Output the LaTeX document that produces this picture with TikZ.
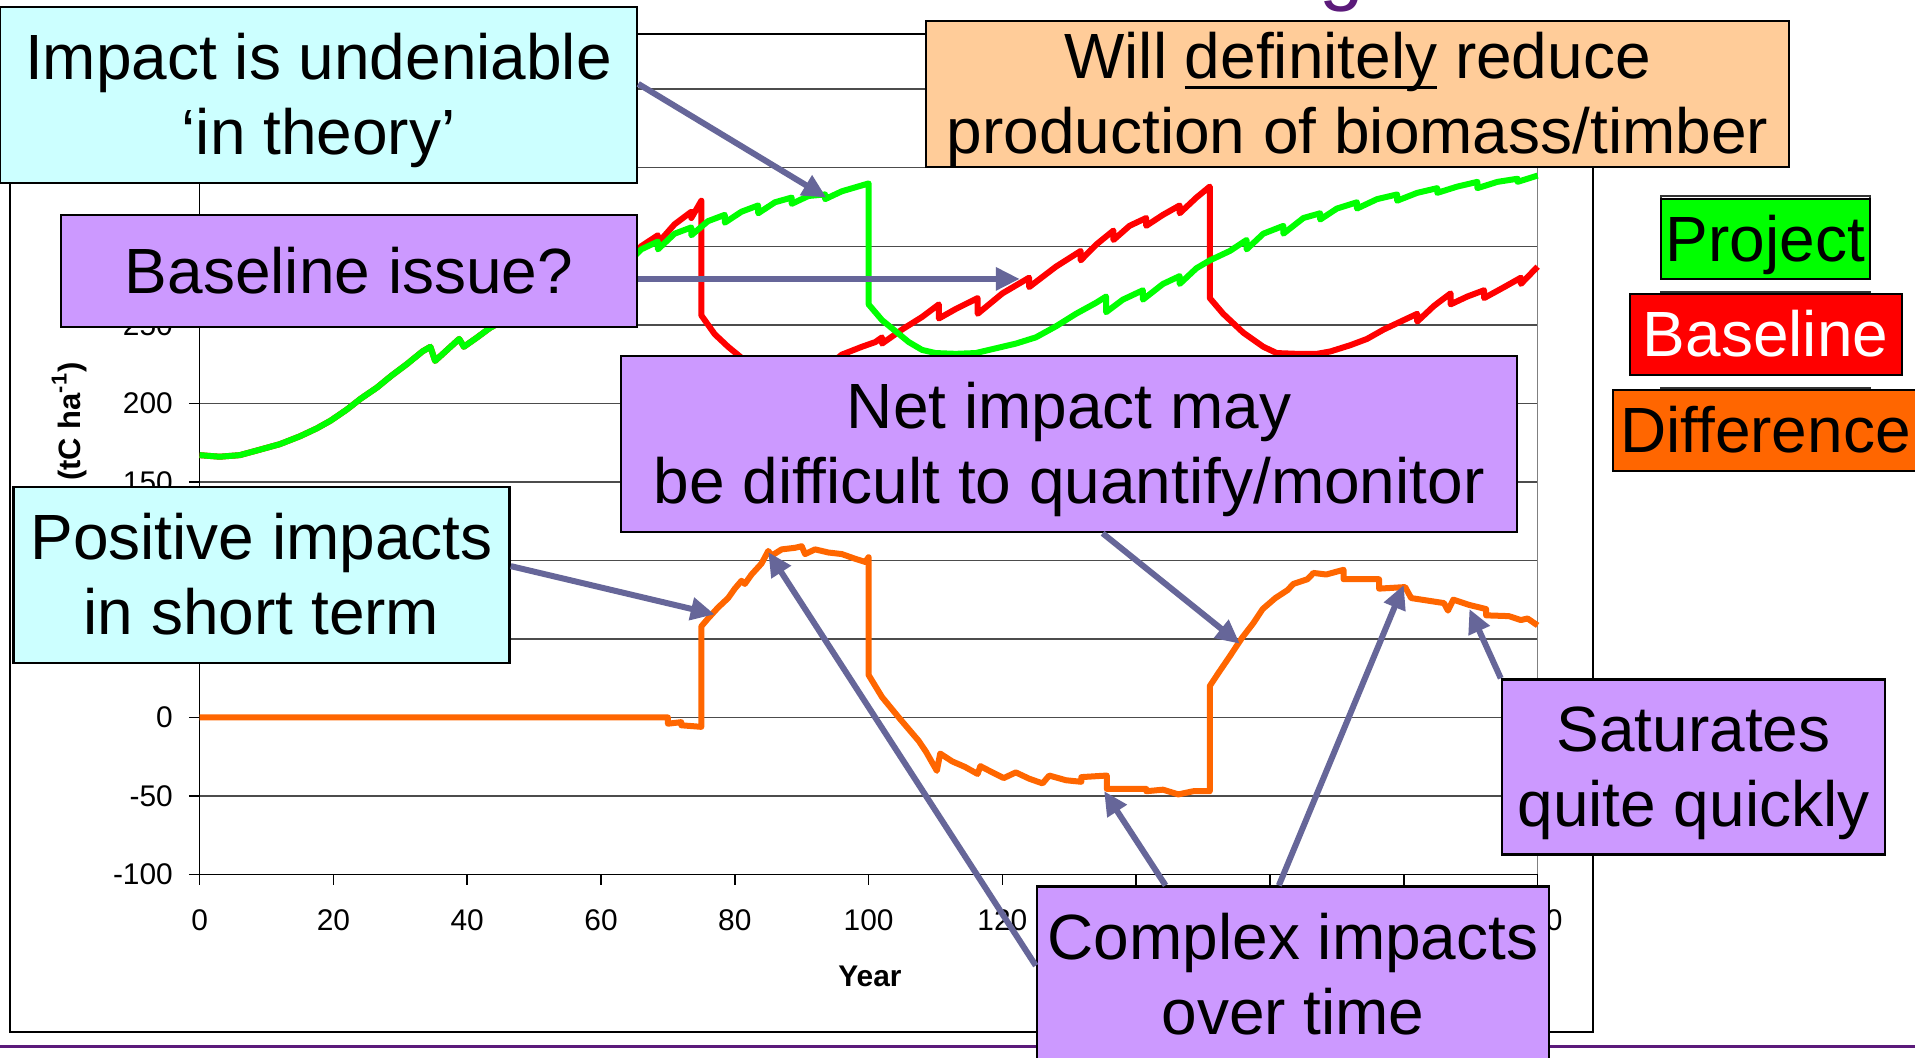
\documentclass[tikz,border=0pt]{standalone}
\usepackage{fontspec}
\setmainfont{Liberation Sans}
\usetikzlibrary{arrows.meta}
\definecolor{sky}{HTML}{CCFFFF}
\definecolor{lilac}{HTML}{CC99FF}
\definecolor{peach}{HTML}{FFCC99}
\definecolor{slate}{HTML}{666699}
\definecolor{projgreen}{HTML}{00FF00}
\definecolor{basered}{HTML}{FF0000}
\definecolor{difforange}{HTML}{FF6600}
\definecolor{titlepurple}{HTML}{5B1A7A}
\newcommand{\ulword}[1]{\setbox0=\hbox{#1}\rlap{\rule[-2.9pt]{\wd0}{0.8pt}}\box0\relax}
\newcommand{\boxstrut}{\rule[-0.212em]{0pt}{1.117em}}
\begin{document}
\begin{tikzpicture}[x=0.1mm,y=0.1mm]
\tikzstyle{every node}+=[inner sep=0pt]
\tikzstyle{callout}=[draw=black, line width=0.25mm, align=center, font=\fontsize{18.2}{21.2}\selectfont]
\tikzstyle{keybox}=[draw=black, line width=0.2mm, font=\fontsize{18.2}{21.2}\selectfont, execute at begin node=\boxstrut]
\tikzstyle{pointer}=[draw=slate, line width=0.6mm, -{Triangle[length=2.4mm,width=2.2mm]}]
\tikzstyle{gridline}=[black!70, line width=0.15mm]
\tikzstyle{ticklabel}=[font=\fontsize{8.5}{10}\selectfont]
\tikzstyle{series}=[line width=0.6mm, line join=round]
\useasboundingbox (0,0) rectangle (1915,-1057);
\fill [white] (0,0) rectangle (1915,-1057);
\node [text=titlepurple, font=\fontsize{22.8}{26}\selectfont, anchor=base] (titleg) at (1342,5) {g};
\draw [black, line width=0.25mm] (10,-34) rectangle (1593,-1032);
\begin{scope}[shift={(199.6,-717.4)}, x=0.669mm, y=0.15706mm]
\foreach \v in {-50,0,...,400} \draw [gridline] (0,\v) -- (200,\v);
\draw [gray, line width=0.15mm] (200,-100) -- (200,400);
\draw [black, line width=0.15mm] (0,400) -- (0,-100) -- (200,-100);
\foreach \v in {-100,-50,...,400} \draw [black, line width=0.15mm] (-1.6,\v) -- (0,\v);
\foreach \y in {0,20,...,200} \draw [black, line width=0.15mm] (\y,-100) -- (\y,-106.5);
\foreach \v in {-100,-50,...,400} \node [ticklabel, anchor=east] (ytick\v) at (-3.9,\v) {\v};
\foreach \y in {0,20,...,200} \node [ticklabel] (xtick\y) at (\y,-129) {\y};
\node [font=\bfseries\fontsize{8.5}{10}\selectfont] (yearlabel) at (100.2,-164.6) {Year};
\node [rotate=90, font=\bfseries\fontsize{8.8}{10}\selectfont] (unitlabel) at (-19.5,188.6) {(tC ha\textsuperscript{-1})};
\draw [series, basered] plot coordinates {(0,167) (3,166) (6,167) (8.6,170) (12,174) (15,179) (17.5,184) (19.6,189) (22,196) (24.1,203) (26.5,210) (28.8,218) (31,225) (33.3,233) (34.5,236) (35.2,227) (37,234) (38.8,241) (39.5,236) (41.5,242) (43.4,248) (46,254) (48.5,259) (48.5,253) (51,264) (53.5,270) (53.5,264) (56,275) (58.5,281) (58.5,275) (61,287) (63.5,293) (63.5,287) (66,300) (68.5,307) (68.5,302) (71,314) (73.5,322) (73.5,318) (75,329) (75,256) (77,244) (79,236) (81,229) (83,224) (85,221) (88,220) (91,221) (94,224) (96,231) (99,236) (101,239) (102,242) (102,238) (105,247) (108,255) (110.5,263) (110.5,254) (113,260) (116.3,267) (116.3,257) (120,270) (124,280) (124,274) (128,287) (131.7,297) (131.7,291) (134,301) (136.6,310) (136.6,304) (139,313) (141.5,318) (141.5,313) (144,320) (146.5,326) (146.5,321) (149,331) (151,338) (151,267) (153,257) (156,245) (159,236) (161,232) (164,231.5) (167,231.5) (169,233) (172,237) (174.5,241) (177,247) (180,253) (182,257) (182,252) (184.5,262) (187,270) (187,263) (189.5,268) (192,272) (192,267) (195,274) (197.5,280) (197.5,276) (200,287)};
\draw [series, projgreen] plot coordinates {(0,167) (3,166) (6,167) (8.6,170) (12,174) (15,179) (17.5,184) (19.6,189) (22,196) (24.1,203) (26.5,210) (28.8,218) (31,225) (33.3,233) (34.5,236) (35.2,227) (37,234) (38.8,241) (39.5,236) (41.5,242) (43.4,248) (46,254) (48.5,259) (48.5,253) (51,264) (53.5,270) (53.5,264) (56,275) (58.5,281) (58.5,275) (61,287) (63.5,293) (63.5,287) (66,298) (68.5,303) (68.5,298) (71,308) (73.5,312) (73.5,307) (76,316) (78.5,320) (78.5,315) (81,322) (83.5,326) (83.5,321) (86,328) (88.5,331) (88.5,327) (91,332) (93.5,333) (93.5,330) (96,335) (100,340) (100,263) (102,253) (104,246) (106,239) (108,234) (110,232) (113,231.5) (116,232) (119,235) (122,238) (125,242) (128,249) (131,257) (134,264) (135.5,268) (135.5,258) (138,266) (141,272) (141,266) (144,276) (146.5,281) (146.5,276) (149,286) (151,291) (154,297) (156.5,304) (156.5,298) (159,308) (162,313) (162,308) (165,318) (167.5,321) (167.5,317) (170,324) (173,328) (173,324) (176,330) (179,333) (179,329) (182,334) (185,337) (185,334) (188,338) (191,341) (191,337) (194,341) (197,343) (197,341) (200,345)};
\draw [series, difforange] plot coordinates {(0,0) (70,0) (70,-4) (72,-3) (72,-5) (75,-6) (75,58) (76,63) (77.5,70) (79,76) (80,82) (81,87) (81.5,85) (82.5,91) (84,98) (85,106) (85.5,103) (87,107) (89,108) (90,109) (90.5,104) (92,107) (94,105) (96,104) (98,101) (99.5,99) (100,102) (100,27) (101,20) (102,13) (104.7,-1) (107.5,-15) (108.6,-22) (110.2,-34) (110.7,-23) (112.5,-28) (114.4,-31.5) (116.3,-36) (116.7,-31) (118.5,-35) (120.2,-38.6) (122,-35) (124,-39) (126,-42) (127,-37) (129.5,-40) (131.8,-41) (131.8,-38) (135.6,-37) (135.6,-45.5) (141.5,-45.5) (141.5,-47) (144,-46) (146.3,-49) (148.5,-47) (151,-47) (151,20) (152.4,29) (154,39) (155.8,50.6) (157.5,60) (158.9,69) (160.8,76) (162.6,81) (163.5,85) (165.6,88) (166.5,92) (168.4,91) (171,94) (171,88) (176.3,88) (176.3,82) (180.2,83) (181.1,76) (186,72.8) (186.6,68) (187.4,75) (189.8,71.6) (192.3,69) (192.3,65) (195.7,64.5) (197.5,62) (198.5,63) (200,58.6)};
\coordinate (theorytip) at (93.7,331);
\coordinate (issuetip) at (122.6,279.2);
\coordinate (shorttip) at (77,65.6);
\coordinate (peaktip) at (85,105.3);
\coordinate (troughtip) at (135.2,-46.9);
\coordinate (regrowtip) at (180,84.4);
\coordinate (monitortip) at (155.5,46.9);
\coordinate (saturatetip) at (189.8,69.1);
\end{scope}
\draw [titlepurple, line width=0.3mm] (0,-1046.7) -- (1915,-1046.7);
\draw [black!80, line width=0.2mm] (1661,-196) rectangle (1870,-279);
\draw [black!80, line width=0.2mm] (1661,-292) rectangle (1870,-375);
\draw [black!80, line width=0.2mm] (1661,-388) rectangle (1870,-471);
\node [keybox, fill=projgreen, minimum width=20.9mm, minimum height=8mm] (projectkey) at (1765.5,-239) {Project};
\node [keybox, fill=basered, text=white, minimum width=27.2mm, minimum height=8.1mm] (baselinekey) at (1765.5,-334.7) {Baseline};
\node [keybox, fill=difforange, minimum width=30.5mm, minimum height=8.1mm] (differencekey) at (1765.5,-430.4) {Difference};
\node [callout, fill=sky, minimum width=63.7mm, minimum height=17.6mm] (theory) at (318.5,-95) {\boxstrut Impact is undeniable\\‘in theory’\boxstrut};
\node [callout, fill=peach, minimum width=86.3mm, minimum height=14.4mm] (reduce) at (1357.5,-94) {\boxstrut Will \ulword{definitely} reduce\\production of biomass/timber\boxstrut};
\node [callout, fill=lilac, minimum width=57.6mm, minimum height=11.2mm] (issue) at (349,-271) {\boxstrut Baseline issue?};
\node [callout, fill=lilac, minimum width=89.6mm, minimum height=17.6mm] (monitor) at (1069,-444) {\boxstrut Net impact may\\be difficult to quantify/monitor\boxstrut};
\node [callout, fill=sky, minimum width=49.6mm, minimum height=17.6mm] (shortterm) at (261.5,-574.8) {\boxstrut Positive impacts\\in short term\boxstrut};
\node [callout, fill=lilac, minimum width=38.3mm, minimum height=17.5mm] (saturates) at (1693.5,-767) {\boxstrut Saturates\\quite quickly\boxstrut};
\node [callout, fill=lilac, minimum width=51.2mm, minimum height=17.6mm] (complex) at (1293,-974.6) {\boxstrut Complex impacts\\over time\boxstrut};
\draw [pointer] (theory.2) -- (theorytip);
\draw [pointer] (issue.east |- issuetip) -- (issuetip);
\draw [pointer] ([xshift=3.36mm]monitor.south) -- (monitortip);
\draw [pointer] (shortterm.2) -- (shorttip);
\draw [pointer] (saturates.north west) -- (saturatetip);
\draw [pointer] (complex.178) -- (peaktip);
\draw [pointer] (complex.145) -- (troughtip);
\draw [pointer] (complex.99) -- (regrowtip);
\end{tikzpicture}
\end{document}
